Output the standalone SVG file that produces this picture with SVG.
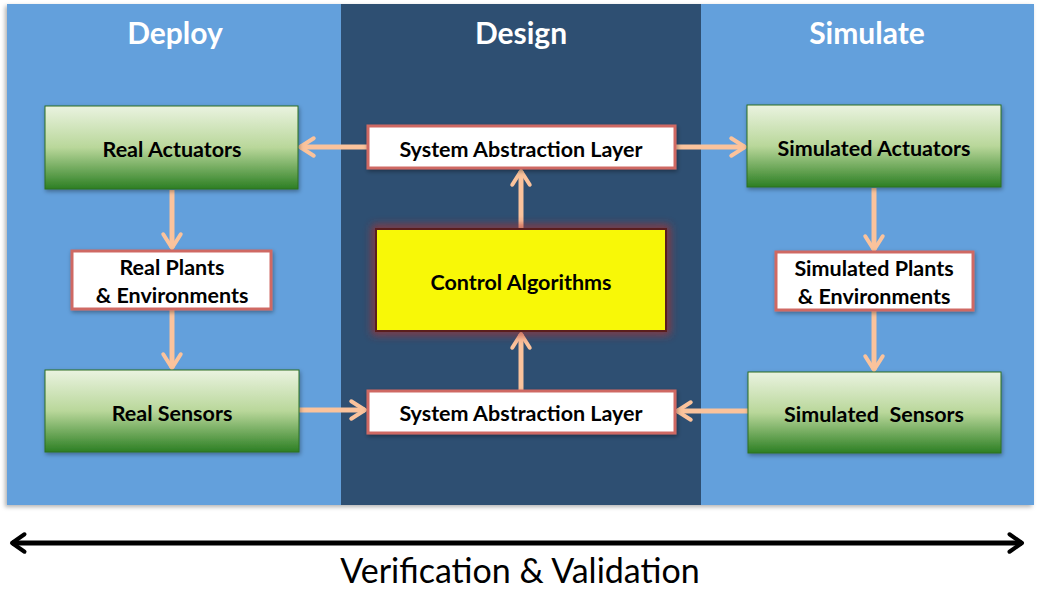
<svg xmlns="http://www.w3.org/2000/svg" width="1039" height="590" viewBox="0 0 1039 590">
<style>
.title{font-family:Lato,"Open Sans",sans-serif;font-weight:bold;font-size:30px;fill:#fff;text-anchor:middle}
.lbl{font-family:Lato,"Open Sans",sans-serif;font-weight:bold;font-size:21.5px;fill:#000;text-anchor:middle}
.green{fill:url(#gg);stroke:#2e6e22;stroke-width:1;filter:url(#sh)}
.white{fill:#fff;stroke:#cf6964;stroke-width:3;filter:url(#sh)}
.conn{stroke:#fbc39c;stroke-width:5;fill:none;marker-end:url(#ah)}
</style>
<defs>
<linearGradient id="gg" x1="0" y1="0" x2="0" y2="1">
<stop offset="0" stop-color="#eaf3e0"/>
<stop offset="0.5" stop-color="#b9d79a"/>
<stop offset="1" stop-color="#2c7f23"/>
</linearGradient>
<filter id="sh" x="-10%" y="-10%" width="125%" height="135%">
<feDropShadow dx="1" dy="2" stdDeviation="2" flood-color="#000" flood-opacity="0.35"/>
</filter>
<filter id="psh" x="-5%" y="-5%" width="110%" height="110%">
<feDropShadow dx="-2" dy="2" stdDeviation="2" flood-color="#000" flood-opacity="0.3"/>
</filter>
<filter id="glow" x="-20%" y="-30%" width="140%" height="160%">
<feGaussianBlur stdDeviation="4"/>
</filter>
<marker id="ah" viewBox="0 0 20 20" refX="16" refY="10" markerWidth="5" markerHeight="5" markerUnits="strokeWidth" orient="auto">
<path d="M5,3 L16,10 L5,17" fill="none" stroke="#fbc39c" stroke-width="3.2" stroke-linecap="round" stroke-linejoin="round"/>
</marker>
<marker id="bk" viewBox="0 0 20 20" refX="16" refY="10" markerWidth="5" markerHeight="5" markerUnits="strokeWidth" orient="auto-start-reverse">
<path d="M6,3 L16,10 L6,17" fill="none" stroke="#000" stroke-width="3.2" stroke-linecap="round" stroke-linejoin="round"/>
</marker>
</defs>
<rect width="1039" height="590" fill="#fff"/>
<g id="panels" filter="url(#psh)">
<rect x="7" y="4" width="334" height="501" fill="#64a0dc"/>
<rect x="341" y="4" width="360" height="501" fill="#2f5072"/>
<rect x="701" y="4" width="333" height="501" fill="#64a0dc"/>
</g>
<text class="title" x="175" y="44">Deploy</text>
<text class="title" x="521" y="44">Design</text>
<text class="title" x="867" y="44">Simulate</text>
<g id="connectors">
<line class="conn" x1="367" y1="147" x2="300" y2="147"/>
<line class="conn" x1="675" y1="147" x2="745" y2="147"/>
<line class="conn" x1="521" y1="229" x2="521" y2="171"/>
<line class="conn" x1="521" y1="390" x2="521" y2="334"/>
<line class="conn" x1="299" y1="410" x2="365" y2="410"/>
<line class="conn" x1="748" y1="411" x2="677" y2="411"/>
<line class="conn" x1="172" y1="190" x2="172" y2="248"/>
<line class="conn" x1="172" y1="310" x2="172" y2="368"/>
<line class="conn" x1="874" y1="188" x2="874" y2="250"/>
<line class="conn" x1="874" y1="311" x2="874" y2="370"/>
</g>
<g id="real-actuators"><rect class="green" x="45" y="106" width="253" height="83"/><text class="lbl" x="172" y="157">Real Actuators</text></g>
<g id="real-plants"><rect class="white" x="72" y="251" width="199" height="58"/><text class="lbl" x="172" y="275">Real Plants</text><text class="lbl" x="172" y="303">&amp; Environments</text></g>
<g id="real-sensors"><rect class="green" x="45" y="370" width="254" height="82"/><text class="lbl" x="172" y="421">Real Sensors</text></g>
<g id="sal-top"><rect class="white" x="368" y="126" width="307" height="42"/><text class="lbl" x="521" y="157">System Abstraction Layer</text></g>
<g id="control">
<rect x="376" y="229" width="290" height="102" fill="none" stroke="#a83030" stroke-width="8" opacity="0.8" filter="url(#glow)"/>
<rect x="376" y="229" width="290" height="102" fill="#f8f807" stroke="#5a1e1e" stroke-width="2"/>
<text class="lbl" x="521" y="290">Control Algorithms</text></g>
<g id="sal-bottom"><rect class="white" x="368" y="391" width="307" height="42"/><text class="lbl" x="521" y="421">System Abstraction Layer</text></g>
<g id="sim-actuators"><rect class="green" x="747" y="105" width="254" height="82"/><text class="lbl" x="874" y="156">Simulated Actuators</text></g>
<g id="sim-plants"><rect class="white" x="776" y="252" width="197" height="58"/><text class="lbl" x="874" y="276">Simulated Plants</text><text class="lbl" x="874" y="304">&amp; Environments</text></g>
<g id="sim-sensors"><rect class="green" x="748" y="372" width="253" height="81"/><text class="lbl" x="874" y="422" xml:space="preserve">Simulated  Sensors</text></g>
<g id="vv">
<line x1="12" y1="543" x2="1022" y2="543" stroke="#000" stroke-width="5" marker-start="url(#bk)" marker-end="url(#bk)"/>
<text x="520" y="583" font-family="Lato,'Open Sans',sans-serif" font-size="34" text-anchor="middle" fill="#000">Verification &amp; Validation</text>
</g>
</svg>
